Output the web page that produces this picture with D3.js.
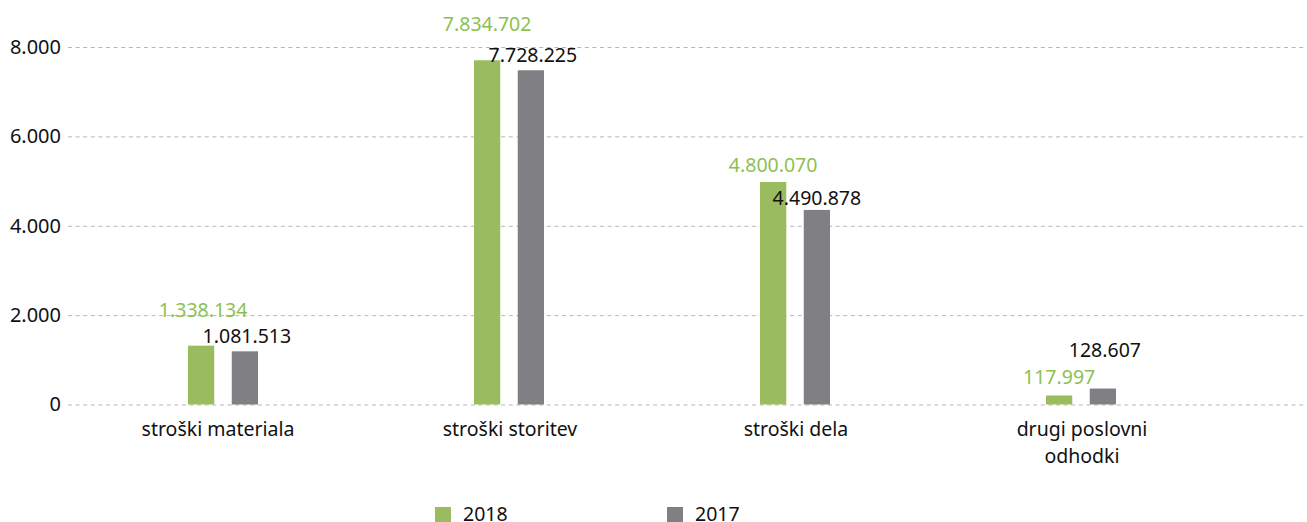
<!DOCTYPE html>
<html>
<head>
<meta charset="utf-8">
<script src="https://cdn.jsdelivr.net/npm/d3@7"></script>
<style>
  body { margin: 0; background: #fff; }
  svg { display: block; font-family: "Noto Sans", "Open Sans", sans-serif; }
</style>
</head>
<body>
<div id="chart"></div>
<script>
// categories and series (bar heights in thousands)
const categories = ["stroški materiala", "stroški storitev", "stroški dela", "drugi poslovni odhodki"];
const series = ["2018", "2017"];
const values2018 = [1317, 7703, 4979, 201];
const values2017 = [1190, 7479, 4354, 357];
// value labels as printed on the chart
const labels2018 = ["1.338.134", "7.834.702", "4.800.070", "117.997"];
const labels2017 = ["1.081.513", "7.728.225", "4.490.878", "128.607"];
const yTicks = [0, 2000, 4000, 6000, 8000];

const width = 1307, height = 522;
const colors = {"2018": "#9bbb5f", "2017": "#808084"};
const labelColors = {"2018": "#8cc152", "2017": "#111"};

const svg = d3.select("#chart")
  .append("svg")
  .attr("width", width)
  .attr("height", height);

const x = d3.scaleBand()
  .domain(categories)
  .range([80, 1224]);

const x1 = d3.scaleBand()
  .domain(series)
  .range([-35, 35])
  .paddingInner(0.4);

const y = d3.scaleLinear()
  .domain([0, 8000])
  .range([404.5, 47]);

const fmt = d3.formatLocale({decimal: ",", thousands: ".", grouping: [3]}).format(",");

// gridlines + y labels
const yAxis = svg.append("g")
  .attr("transform", "translate(68,0)")
  .call(d3.axisLeft(y).tickValues(yTicks).tickSize(-1239).tickPadding(7).tickFormat(fmt));
yAxis.select(".domain").remove();
yAxis.selectAll(".tick line")
  .attr("stroke", "#b5b5b5")
  .attr("stroke-dasharray", "4,3.6");
yAxis.selectAll(".tick text")
  .attr("fill", "#111")
  .style("font-size", "20px")
  .style("font-family", "Noto Sans");

const rows = categories.map((c, i) => ({
  cat: c,
  vals: [
    {s: "2018", v: values2018[i], label: labels2018[i]},
    {s: "2017", v: values2017[i], label: labels2017[i]}
  ]
}));

const groups = svg.selectAll("g.grp")
  .data(rows)
  .enter()
  .append("g")
  .attr("class", "grp")
  .attr("transform", d => "translate(" + (x(d.cat) + x.bandwidth() / 2) + ",0)");

groups.selectAll("rect")
  .data(d => d.vals)
  .enter()
  .append("rect")
  .attr("x", d => x1(d.s))
  .attr("width", x1.bandwidth())
  .attr("y", d => y(d.v))
  .attr("height", d => y(0) - y(d.v))
  .attr("fill", d => colors[d.s]);

// label offsets above bar tops (the original labels were placed by hand)
const labelDy = {
  "2018": [-29, -29, -10, -12],
  "2017": [-8, -8, -5, -32]
};
const labelDx = {
  "2018": [2, 0, 0, 0],
  "2017": [2, 2, 0, 2]
};

groups.each(function(d, i) {
  d3.select(this).selectAll("text.val")
    .data(d.vals)
    .enter()
    .append("text")
    .attr("class", "val")
    .attr("x", v => x1(v.s) + x1.bandwidth() / 2 + labelDx[v.s][i])
    .attr("y", v => y(v.v) + labelDy[v.s][i])
    .attr("text-anchor", "middle")
    .attr("fill", v => labelColors[v.s])
    .style("font-size", "19.5px")
    .text(v => v.label);
});

// category labels, long one wrapped onto two lines
svg.selectAll("text.cat")
  .data(categories)
  .enter()
  .append("text")
  .attr("class", "cat")
  .attr("text-anchor", "middle")
  .attr("fill", "#111")
  .style("font-size", "19.5px")
  .each(function(c) {
    const el = d3.select(this);
    const words = c.split(" ");
    const lines = c.length > 20
      ? [words.slice(0, 2).join(" "), words.slice(2).join(" ")]
      : [c];
    lines.forEach((l, k) => {
      el.append("tspan")
        .attr("x", x(c) + x.bandwidth() / 2 + (c === categories[0] ? -5 : 1))
        .attr("y", 436 + k * 27)
        .text(l);
    });
  });

// legend
const legend = svg.selectAll("g.leg")
  .data(series)
  .enter()
  .append("g")
  .attr("class", "leg")
  .attr("transform", (d, i) => "translate(" + (435 + i * 232) + ",507)");
legend.append("rect")
  .attr("width", 16)
  .attr("height", 16)
  .attr("fill", d => colors[d]);
legend.append("text")
  .attr("x", 28)
  .attr("y", 14)
  .attr("fill", "#111")
  .style("font-size", "19.5px")
  .text(d => d);
</script>
</body>
</html>
